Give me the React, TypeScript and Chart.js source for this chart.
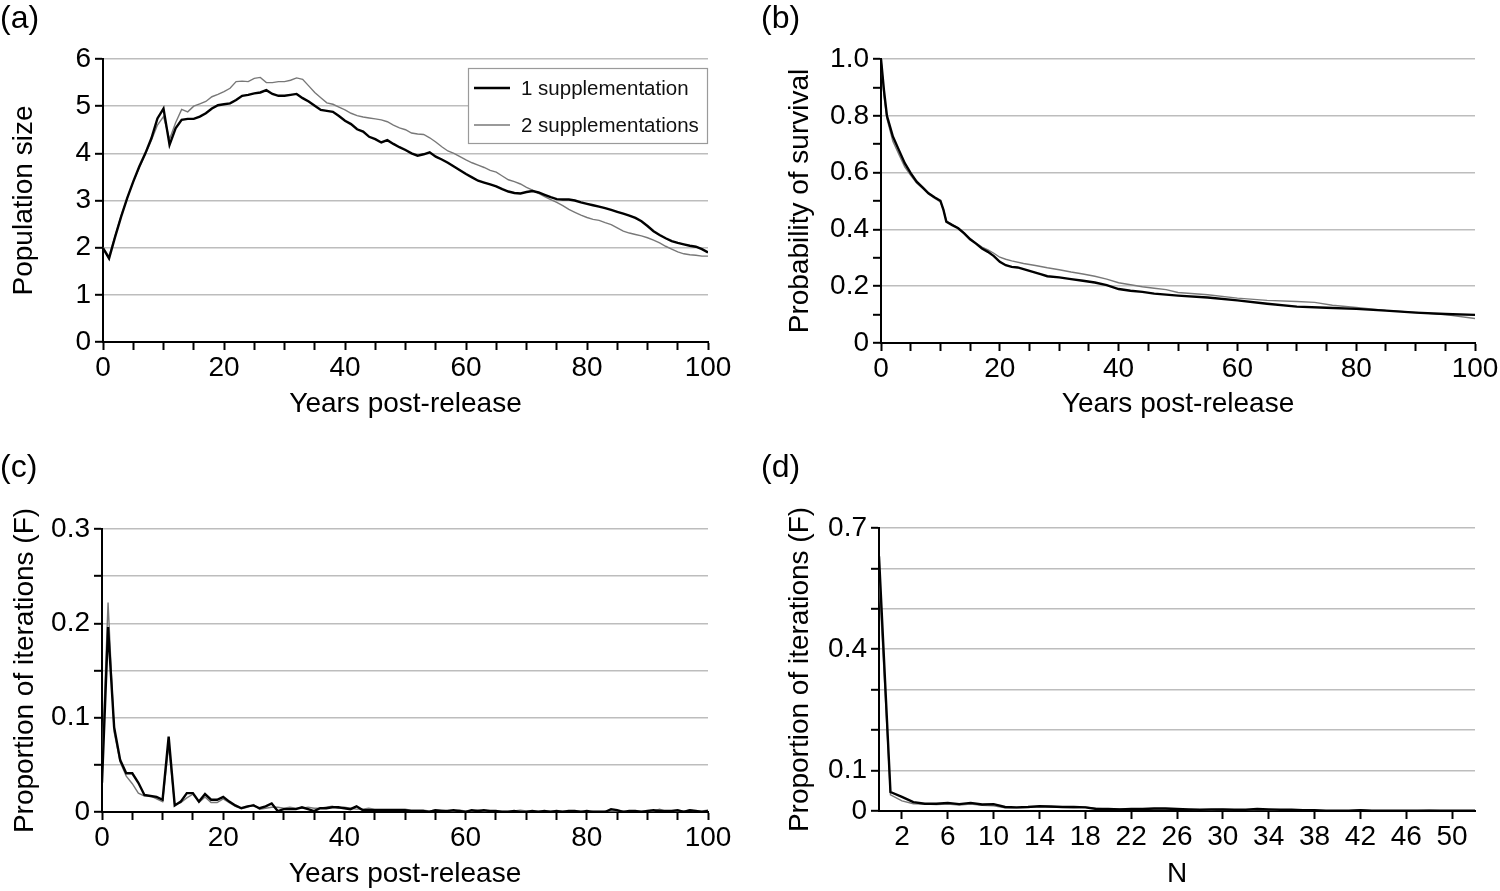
import React, { useEffect, useRef } from 'react';
import { Chart, registerables } from 'chart.js';

Chart.register(...registerables);

const FONT = "'Liberation Sans', Arial, Helvetica, sans-serif";

const SERIES = ['1 supplementation', '2 supplementations'];

// ---------- Panel (a): population size ----------
const yearsA = Array.from({ length: 101 }, (_, i) => i);
const popOne = [
  1.99, 1.77, 2.23, 2.66, 3.05, 3.40, 3.72, 4.00, 4.32, 4.74,
  4.95, 4.18, 4.53, 4.71, 4.73, 4.73, 4.78, 4.85, 4.95, 5.02,
  5.04, 5.06, 5.13, 5.22, 5.24, 5.27, 5.29, 5.34, 5.26, 5.22,
  5.22, 5.24, 5.26, 5.17, 5.10, 5.01, 4.92, 4.90, 4.88, 4.79,
  4.69, 4.62, 4.51, 4.46, 4.35, 4.30, 4.23, 4.28, 4.20, 4.13,
  4.07, 4.00, 3.95, 3.98, 4.02, 3.93, 3.87, 3.80, 3.72, 3.64,
  3.56, 3.49, 3.42, 3.38, 3.34, 3.30, 3.24, 3.19, 3.16, 3.15,
  3.18, 3.20, 3.17, 3.12, 3.07, 3.03, 3.02, 3.02, 3.00, 2.96,
  2.93, 2.90, 2.87, 2.84, 2.80, 2.76, 2.72, 2.68, 2.63, 2.56,
  2.46, 2.35, 2.27, 2.20, 2.14, 2.10, 2.07, 2.04, 2.02, 1.97,
  1.90,
];
const popTwo = [
  2.00, 1.82, 2.25, 2.68, 3.05, 3.40, 3.70, 3.98, 4.28, 4.60,
  4.78, 4.30, 4.65, 4.93, 4.88, 5.00, 5.05, 5.10, 5.20, 5.25,
  5.31, 5.38, 5.52, 5.53, 5.52, 5.59, 5.61, 5.50, 5.50, 5.52,
  5.52, 5.55, 5.60, 5.57, 5.43, 5.29, 5.18, 5.07, 5.04, 4.98,
  4.92, 4.85, 4.80, 4.77, 4.75, 4.73, 4.71, 4.67, 4.60, 4.54,
  4.50, 4.43, 4.41, 4.40, 4.33, 4.24, 4.14, 4.05, 4.00, 3.93,
  3.86, 3.80, 3.75, 3.70, 3.64, 3.60, 3.52, 3.44, 3.40, 3.35,
  3.28, 3.22, 3.15, 3.08, 3.02, 2.96, 2.89, 2.81, 2.75, 2.69,
  2.64, 2.60, 2.58, 2.53, 2.49, 2.42, 2.35, 2.31, 2.28, 2.25,
  2.21, 2.16, 2.10, 2.03, 1.97, 1.91, 1.87, 1.85, 1.84, 1.82,
  1.82,
];

// ---------- Panel (b): probability of survival ----------
const survYearsOne = [0, 0.5, 1, 2, 3, 4, 5, 6, 7, 8, 9, 10, 10.5, 11, 12, 13, 14, 15, 16, 17, 18, 19, 20, 21, 22, 23, 24, 25, 26, 27, 28, 30, 32, 34, 36, 38, 40, 42, 44, 46, 50, 55, 60, 65, 70, 75, 80, 85, 90, 95, 100];
const survOne = [1.0, 0.89, 0.80, 0.727, 0.68, 0.633, 0.598, 0.568, 0.548, 0.527, 0.513, 0.501, 0.47, 0.427, 0.415, 0.404, 0.386, 0.365, 0.35, 0.333, 0.321, 0.306, 0.286, 0.274, 0.268, 0.266, 0.26, 0.254, 0.248, 0.242, 0.235, 0.231, 0.225, 0.219, 0.213, 0.204, 0.19, 0.184, 0.18, 0.174, 0.167, 0.16, 0.15, 0.138, 0.128, 0.124, 0.12, 0.114, 0.107, 0.102, 0.099];
const survYearsTwo = [0, 0.5, 1, 2, 3, 4, 5, 6, 7, 8, 9, 10, 10.5, 11, 12, 13, 14, 15, 16, 17, 18, 19, 20, 21, 22, 24, 26, 28, 30, 32, 34, 36, 38, 40, 42, 44, 46, 48, 50, 55, 60, 65, 70, 73, 76, 80, 85, 90, 95, 100];
const survTwo = [1.0, 0.87, 0.79, 0.71, 0.665, 0.62, 0.59, 0.563, 0.545, 0.525, 0.51, 0.497, 0.47, 0.43, 0.417, 0.405, 0.388, 0.368, 0.352, 0.338, 0.328, 0.316, 0.302, 0.295, 0.289, 0.28, 0.273, 0.265, 0.258, 0.25, 0.243, 0.235, 0.225, 0.212, 0.205, 0.198, 0.193, 0.188, 0.178, 0.17, 0.158, 0.15, 0.146, 0.143, 0.133, 0.125, 0.115, 0.108, 0.1, 0.086];

// ---------- Panel (c): proportion of iterations by year ----------
const extOne = [
  0.031, 0.196, 0.09, 0.055, 0.041, 0.041, 0.031, 0.018, 0.017, 0.016,
  0.013, 0.08, 0.007, 0.011, 0.02, 0.02, 0.011, 0.019, 0.013, 0.013,
  0.016, 0.011, 0.007, 0.004, 0.006, 0.007, 0.004, 0.006, 0.009, 0.001,
  0.003, 0.003, 0.003, 0.005, 0.003, 0.001, 0.004, 0.004, 0.005, 0.005,
  0.004, 0.003, 0.006, 0.002, 0.002, 0.002, 0.002, 0.002, 0.002, 0.002,
  0.002, 0.001, 0.001, 0.001, 0.0, 0.002, 0.001, 0.001, 0.002, 0.001,
  0.0, 0.002, 0.001, 0.002, 0.001, 0.001, 0.0, 0.0, 0.001, 0.0,
  0.0, 0.001, 0.0, 0.001, 0.0, 0.001, 0.0, 0.001, 0.001, 0.0,
  0.001, 0.0, 0.0, 0.0, 0.003, 0.002, 0.0, 0.001, 0.001, 0.0,
  0.001, 0.002, 0.001, 0.001, 0.001, 0.002, 0.0, 0.002, 0.001, 0.0,
  0.001,
];
const extTwo = [
  0.05, 0.222, 0.085, 0.053, 0.038, 0.03, 0.02, 0.017, 0.017, 0.014,
  0.011, 0.07, 0.008, 0.01, 0.015, 0.019, 0.01, 0.016, 0.01, 0.01,
  0.014, 0.01, 0.006, 0.004, 0.005, 0.008, 0.003, 0.004, 0.005, 0.005,
  0.004, 0.005, 0.004, 0.004, 0.005, 0.004, 0.004, 0.005, 0.006, 0.004,
  0.005, 0.004, 0.003, 0.003, 0.004, 0.003, 0.003, 0.003, 0.003, 0.003,
  0.003, 0.002, 0.002, 0.002, 0.001, 0.002, 0.002, 0.001, 0.001, 0.002,
  0.001, 0.001, 0.002, 0.001, 0.001, 0.001, 0.001, 0.001, 0.001, 0.002,
  0.001, 0.001, 0.001, 0.001, 0.001, 0.001, 0.001, 0.001, 0.001, 0.001,
  0.0, 0.001, 0.001, 0.001, 0.001, 0.001, 0.001, 0.0, 0.001, 0.001,
  0.001, 0.001, 0.003, 0.001, 0.001, 0.001, 0.001, 0.002, 0.001, 0.001,
  0.002,
];

// ---------- Panel (d): proportion of iterations by N ----------
const nValues = Array.from({ length: 53 }, (_, i) => i);
const nOne = [
  0.63, 0.047, 0.035, 0.022, 0.018, 0.018, 0.02, 0.017, 0.02, 0.016,
  0.017, 0.01, 0.009, 0.01, 0.012, 0.011, 0.01, 0.01, 0.009, 0.005,
  0.005, 0.004, 0.005, 0.005, 0.006, 0.006, 0.005, 0.004, 0.003, 0.004,
  0.004, 0.003, 0.003, 0.005, 0.004, 0.003, 0.003, 0.002, 0.002, 0.001,
  0.001, 0.001, 0.002, 0.001, 0.001, 0.001, 0.001, 0.001, 0.001, 0.001,
  0.001, 0.001, 0.001,
];
const nTwo = [
  0.58, 0.04, 0.025, 0.018, 0.017, 0.016, 0.017, 0.015, 0.017, 0.014,
  0.013, 0.008, 0.008, 0.009, 0.01, 0.009, 0.009, 0.008, 0.01, 0.006,
  0.005, 0.005, 0.004, 0.004, 0.005, 0.005, 0.004, 0.004, 0.003, 0.003,
  0.004, 0.003, 0.002, 0.003, 0.003, 0.002, 0.002, 0.002, 0.001, 0.001,
  0.001, 0.001, 0.002, 0.001, 0.001, 0.001, 0.001, 0.001, 0.002, 0.001,
  0.001, 0.001, 0.001,
];
const nTickLabels = [2, 6, 10, 14, 18, 22, 26, 30, 34, 38, 42, 46, 50];

// ---------- helpers ----------
const zip = (xs: number[], ys: number[]) => ys.map((y, i) => ({ x: xs[i], y }));

const lineSets = (black: any[], gray: any[]) => [
  { label: SERIES[0], data: black, borderColor: '#000000', borderWidth: 2.4, pointRadius: 0, tension: 0, fill: false },
  { label: SERIES[1], data: gray, borderColor: '#787878', borderWidth: 1.4, pointRadius: 0, tension: 0, fill: false },
];

const near = (v: number, t: number) => Math.abs(v - t) < 1e-6;

type Spec = {
  W: number; H: number; L: number; T: number; R: number; B: number;
  xMin: number; xMax: number; xStep: number; xTickList?: number[];
  xLabel: (v: number) => string;
  yMin: number; yMax: number; yStep: number;
  yLabel: (v: number) => string;
  yGrid: (v: number) => boolean;
  xTitle: string; yTitle: string; xTitlePad: number; yTitlePad: number;
  datasets: any[];
  plugins?: any[];
};

const legendPlugin = {
  id: 'boxLegend',
  afterDraw(chart: any) {
    const ctx = chart.ctx;
    ctx.save();
    ctx.fillStyle = '#ffffff';
    ctx.fillRect(468, 68, 239, 75);
    ctx.strokeStyle = '#9a9a9a';
    ctx.lineWidth = 1.2;
    ctx.strokeRect(468.5, 68.5, 239, 75);
    const rows = [
      { y: 88, color: '#000000', w: 2.6, text: SERIES[0] },
      { y: 125, color: '#787878', w: 1.4, text: SERIES[1] },
    ];
    rows.forEach((r) => {
      ctx.beginPath();
      ctx.strokeStyle = r.color;
      ctx.lineWidth = r.w;
      ctx.moveTo(474, r.y);
      ctx.lineTo(510, r.y);
      ctx.stroke();
      ctx.fillStyle = '#111111';
      ctx.font = `20.5px ${FONT}`;
      ctx.textBaseline = 'middle';
      ctx.textAlign = 'left';
      ctx.fillText(r.text, 521, r.y + 1);
    });
    ctx.restore();
  },
};

function buildChart(canvas: HTMLCanvasElement, s: Spec) {
  const tickFont = { family: FONT, size: 28 };
  const titleFont = { family: FONT, size: 28 };
  return new Chart(canvas, {
    type: 'line',
    data: { datasets: s.datasets },
    options: {
      responsive: false,
      maintainAspectRatio: false,
      animation: false,
      devicePixelRatio: 1,
      layout: { padding: { left: 0, top: s.T, right: s.W - s.R, bottom: 0 } },
      plugins: { legend: { display: false }, tooltip: { enabled: false }, title: { display: false } },
      scales: {
        x: {
          type: 'linear',
          min: s.xMin,
          max: s.xMax,
          afterFit: (sc: any) => { sc.height = s.H - s.B; },
          afterBuildTicks: s.xTickList
            ? (sc: any) => { sc.ticks = s.xTickList!.map((v) => ({ value: v })); }
            : undefined,
          ticks: {
            stepSize: s.xStep,
            autoSkip: false,
            maxRotation: 0,
            minRotation: 0,
            font: tickFont,
            color: '#000',
            padding: 1,
            callback: (v: any) => s.xLabel(Number(v)),
          },
          grid: { drawOnChartArea: false, drawTicks: true, tickLength: 8, tickWidth: 2, tickColor: '#000' },
          border: { display: true, color: '#000', width: 2 },
          title: { display: true, text: s.xTitle, font: titleFont, color: '#000', padding: { top: 0, bottom: s.xTitlePad } },
        },
        y: {
          type: 'linear',
          min: s.yMin,
          max: s.yMax,
          afterFit: (sc: any) => { sc.width = s.L; },
          ticks: {
            stepSize: s.yStep,
            autoSkip: false,
            font: tickFont,
            color: '#000',
            padding: 4,
            callback: (v: any) => s.yLabel(Number(v)),
          },
          grid: {
            drawOnChartArea: true,
            drawTicks: true,
            tickLength: 8,
            tickWidth: 2,
            tickColor: '#000',
            lineWidth: 1.6,
            color: (c: any) => (c.tick && s.yGrid(c.tick.value) ? '#bdbdbd' : 'rgba(0,0,0,0)'),
          },
          border: { display: true, color: '#000', width: 2 },
          title: { display: true, text: s.yTitle, font: titleFont, color: '#000', padding: { top: s.yTitlePad, bottom: 0 } },
        },
      },
    } as any,
    plugins: s.plugins || [],
  });
}

function Panel({ left, top, spec }: { left: number; top: number; spec: Spec }) {
  const ref = useRef<HTMLCanvasElement>(null);
  useEffect(() => {
    if (!ref.current) return;
    const chart = buildChart(ref.current, spec);
    return () => chart.destroy();
  }, []);
  return (
    <div style={{ position: 'absolute', left, top, width: spec.W, height: spec.H }}>
      <canvas ref={ref} width={spec.W} height={spec.H} style={{ width: spec.W, height: spec.H, display: 'block' }} />
    </div>
  );
}

const xEvery20 = (v: number) => (near(v % 20, 0) ? String(v) : '');

const specA: Spec = {
  W: 740, H: 440, L: 103, T: 59, R: 708, B: 342,
  xMin: 0, xMax: 100, xStep: 5, xLabel: xEvery20,
  yMin: 0, yMax: 6, yStep: 1, yLabel: (v) => String(Math.round(v)), yGrid: (v) => v > 0.5,
  xTitle: 'Years post-release', yTitle: 'Population size', xTitlePad: 19, yTitlePad: 7,
  datasets: lineSets(zip(yearsA, popOne), zip(yearsA, popTwo)),
  plugins: [legendPlugin],
};

const specB: Spec = {
  W: 740, H: 440, L: 121, T: 59, R: 715, B: 343,
  xMin: 0, xMax: 100, xStep: 5, xLabel: xEvery20,
  yMin: 0, yMax: 1, yStep: 0.1,
  yLabel: (v) => {
    const k = Math.round(v * 10);
    if (k % 2 !== 0) return '';
    return k === 0 ? '0' : (k / 10).toFixed(1);
  },
  yGrid: (v) => { const k = Math.round(v * 10); return k > 0 && k % 2 === 0; },
  xTitle: 'Years post-release', yTitle: 'Probability of survival', xTitlePad: 19, yTitlePad: 23,
  datasets: lineSets(zip(survYearsOne, survOne), zip(survYearsTwo, survTwo)),
};

const specC: Spec = {
  W: 740, H: 451, L: 102, T: 89, R: 708, B: 372,
  xMin: 0, xMax: 100, xStep: 5, xLabel: xEvery20,
  yMin: 0, yMax: 0.3, yStep: 0.05,
  yLabel: (v) => {
    const k = Math.round(v * 100);
    if (k % 10 !== 0) return '';
    return k === 0 ? '0' : (k / 100).toFixed(1);
  },
  yGrid: (v) => v > 0.01,
  xTitle: 'Years post-release', yTitle: 'Proportion of iterations (F)', xTitlePad: 0, yTitlePad: 8,
  datasets: lineSets(zip(yearsA, extOne), zip(yearsA, extTwo)),
};

const specD: Spec = {
  W: 740, H: 451, L: 119, T: 88, R: 715, B: 371,
  xMin: 0, xMax: 52, xStep: 4, xTickList: nTickLabels, xLabel: (v) => String(Math.round(v)),
  yMin: 0, yMax: 0.7, yStep: 0.1,
  yLabel: (v) => {
    const k = Math.round(v * 10);
    if (k === 0) return '0';
    return k === 1 || k === 4 || k === 7 ? (k / 10).toFixed(1) : '';
  },
  yGrid: (v) => v > 0.05,
  xTitle: 'N', yTitle: 'Proportion of iterations (F)', xTitlePad: 0, yTitlePad: 23,
  datasets: lineSets(zip(nValues, nOne), zip(nValues, nTwo)),
};

const tagStyle = (left: number, top: number): React.CSSProperties => ({
  position: 'absolute', left, top, fontFamily: FONT, fontSize: 32, lineHeight: '34px', color: '#000',
});

export default function App() {
  return (
    <div style={{ position: 'absolute', left: 0, top: 0, width: 1500, height: 891, background: '#fff', overflow: 'hidden' }}>
      <Panel left={0} top={0} spec={specA} />
      <Panel left={760} top={0} spec={specB} />
      <Panel left={0} top={440} spec={specC} />
      <Panel left={760} top={440} spec={specD} />
      <div style={tagStyle(0, 0)}>(a)</div>
      <div style={tagStyle(761, 0)}>(b)</div>
      <div style={tagStyle(0, 449)}>(c)</div>
      <div style={tagStyle(761, 449)}>(d)</div>
    </div>
  );
}
